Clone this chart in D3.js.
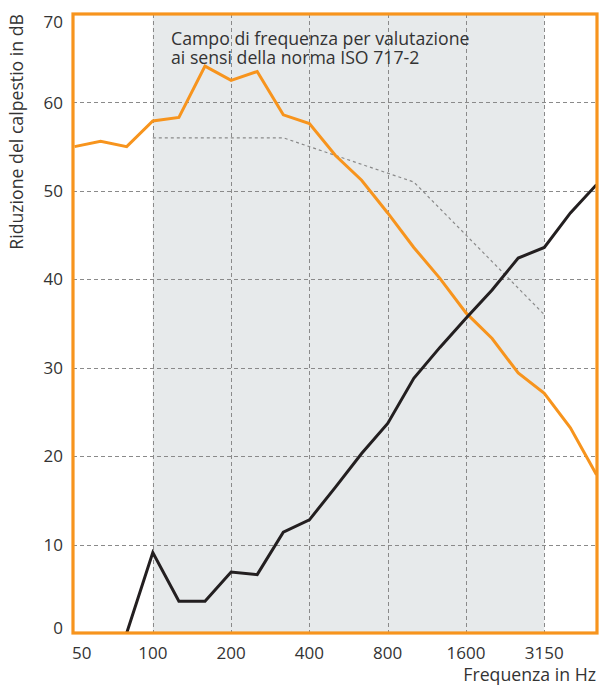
<!DOCTYPE html>
<html>
<head>
<meta charset="utf-8">
<script src="https://cdn.jsdelivr.net/npm/d3@7"></script>
<style>
  body { margin: 0; background: #fff; }
  svg { font-family: "Open Sans", Lato, sans-serif; }
</style>
</head>
<body>
<div id="main"></div>
<script>
// third-octave bands (Hz)
var bands = [50, 63, 80, 100, 125, 160, 200, 250, 315, 400, 500, 630, 800, 1000, 1250, 1600, 2000, 2500, 3150, 4000, 5000];
var tickBands = [50, 100, 200, 400, 800, 1600, 3150];
var yTicks = [0, 10, 20, 30, 40, 50, 60, 70];

// orange curve
var orangeValues = [55.0, 55.6, 55.0, 57.9, 58.3, 64.1, 62.5, 63.5, 58.6, 57.6, 54.0, 51.2, 47.5, 43.6, 40.1, 36.2, 33.3, 29.4, 27.1, 23.2, 17.9];
// black curve
var blackValues = [null, null, 0, 9.1, 3.6, 3.6, 6.9, 6.6, 11.4, 12.8, 16.5, 20.3, 23.7, 28.8, 32.3, 35.6, 38.8, 42.4, 43.6, 47.5, 50.7];
// shifted reference curve ISO 717-2 (100 - 3150 Hz)
var refValues = [null, null, null, 56, 56, 56, 56, 56, 56, 55, 54, 53, 52, 51, 48, 45, 42, 39, 36, null, null];

var rangeStart = 100, rangeEnd = 3150;

var ctx = {
    width: 600,
    height: 686,
    left: 73,
    right: 597,
    top: 14,
    bottom: 633
};

var svg = d3.select("#main").append("svg")
    .attr("width", ctx.width)
    .attr("height", ctx.height);

var x = d3.scaleLinear()
    .domain([0, bands.length - 1])
    .range([74.5, 596.5]);
var xb = function(f) { return x(bands.indexOf(f)); };

var y = d3.scaleLinear()
    .domain([0, 70])
    .range([ctx.bottom, ctx.top]);

// evaluation range shading
svg.append("rect")
    .attr("x", xb(rangeStart))
    .attr("y", ctx.top)
    .attr("width", xb(rangeEnd) - xb(rangeStart))
    .attr("height", ctx.bottom - ctx.top)
    .attr("fill", "#e7eaeb");

// grid
var grid = svg.append("g").attr("stroke", "#8a8a8a").attr("stroke-width", 1).attr("stroke-dasharray", "4,3");
grid.selectAll(".hgrid")
    .data(yTicks.filter(function(v) { return v > 0 && v < 70; }))
    .enter().append("line")
    .attr("x1", ctx.left).attr("x2", ctx.right)
    .attr("y1", function(d) { return Math.round(y(d)) + 0.5; })
    .attr("y2", function(d) { return Math.round(y(d)) + 0.5; });
grid.selectAll(".vgrid")
    .data(tickBands.filter(function(f) { return f > 50; }))
    .enter().append("line")
    .attr("y1", ctx.top).attr("y2", ctx.bottom)
    .attr("x1", function(d) { return Math.round(xb(d)) + 0.5; })
    .attr("x2", function(d) { return Math.round(xb(d)) + 0.5; });

// annotation
var note = svg.append("text")
    .attr("x", 171)
    .attr("y", 45)
    .attr("font-size", 17.7)
    .attr("fill", "#333");
note.append("tspan").attr("x", 171).text("Campo di frequenza per valutazione");
note.append("tspan").attr("x", 171).attr("dy", 19).text("ai sensi della norma ISO 717-2");

svg.append("clipPath").attr("id", "plotclip")
  .append("rect")
    .attr("x", ctx.left).attr("y", ctx.top)
    .attr("width", ctx.right - ctx.left).attr("height", ctx.bottom - ctx.top);

var line = d3.line()
    .defined(function(d) { return d != null; })
    .x(function(d, i) { return x(i); })
    .y(function(d) { return y(d); });

var plot = svg.append("g").attr("clip-path", "url(#plotclip)");

plot.append("path")
    .attr("d", line(refValues))
    .attr("fill", "none")
    .attr("stroke", "#8a8a8a")
    .attr("stroke-width", 1.2)
    .attr("stroke-dasharray", "3,3");

plot.append("path")
    .attr("d", line(orangeValues))
    .attr("fill", "none")
    .attr("stroke", "#f7941d")
    .attr("stroke-width", 3)
    .attr("stroke-linejoin", "miter");

plot.append("path")
    .attr("d", line(blackValues))
    .attr("fill", "none")
    .attr("stroke", "#231f20")
    .attr("stroke-width", 3);

// frame
svg.append("rect")
    .attr("x", ctx.left).attr("y", ctx.top)
    .attr("width", ctx.right - ctx.left).attr("height", ctx.bottom - ctx.top)
    .attr("fill", "none")
    .attr("stroke", "#f7941d")
    .attr("stroke-width", 3.2);

// y tick labels
svg.selectAll(".ylab")
    .data(yTicks)
    .enter().append("text")
    .attr("x", 63)
    .attr("y", function(d) { return Math.min(Math.max(y(d), 22), 628); })
    .attr("dy", "0.36em")
    .attr("text-anchor", "end")
    .attr("font-size", 17)
    .attr("fill", "#333")
    .text(function(d) { return d; });

// x tick labels
svg.selectAll(".xlab")
    .data(tickBands)
    .enter().append("text")
    .attr("x", function(d) { return d === 50 ? 72 : xb(d); })
    .attr("y", 659)
    .attr("text-anchor", function(d) { return d === 50 ? "start" : "middle"; })
    .attr("font-size", 17)
    .attr("fill", "#333")
    .text(function(d) { return d; });

// axis titles
svg.append("text")
    .attr("x", 596)
    .attr("y", 681)
    .attr("text-anchor", "end")
    .attr("font-size", 17.7)
    .attr("fill", "#333")
    .text("Frequenza in Hz");

svg.append("text")
    .attr("transform", "translate(23,14) rotate(-90)")
    .attr("text-anchor", "end")
    .attr("font-size", 17.7)
    .attr("fill", "#333")
    .text("Riduzione del calpestio in dB");
</script>
</body>
</html>
